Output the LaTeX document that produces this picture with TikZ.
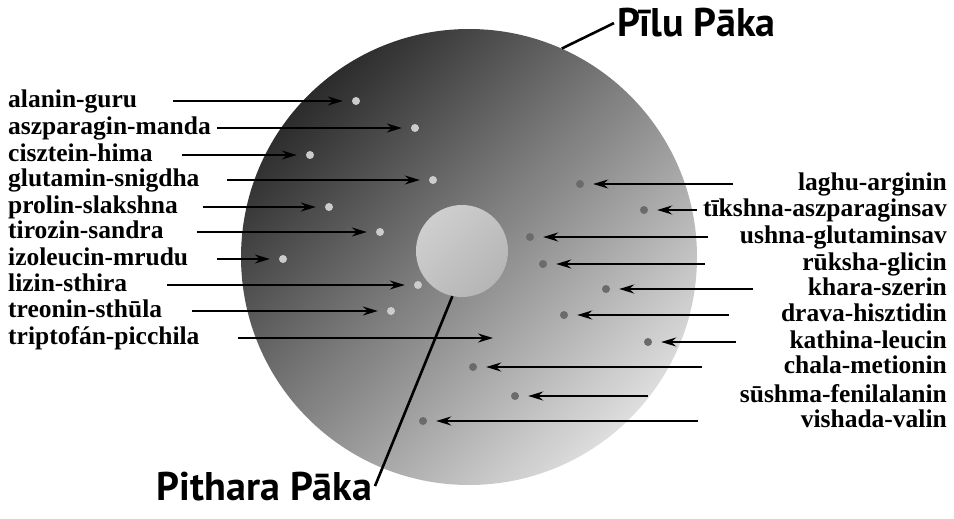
\documentclass[tikz,border=0pt]{standalone}
\usepackage{fontspec}
\setmainfont{Liberation Serif}
\newfontfamily\titlefont{PT Sans}
\usetikzlibrary{arrows.meta}
\definecolor{bgA}{gray}{0.10}
\definecolor{bgB}{gray}{0.94}
\pgfdeclarehorizontalshading{bigsh}{100bp}{color(0bp)=(bgA); color(20bp)=(bgA); color(80bp)=(bgB); color(100bp)=(bgB)}
\definecolor{inA}{gray}{0.86}
\definecolor{inB}{gray}{0.66}
\pgfdeclarehorizontalshading{innersh}{100bp}{color(0bp)=(inA); color(100bp)=(inB)}
\definecolor{ldotc}{gray}{0.80}
\definecolor{rdotc}{gray}{0.42}
\begin{document}
\begin{tikzpicture}[x=1pt,y=-1pt,
  lbl/.style={font=\bfseries\fontsize{25.5}{26}\selectfont, inner sep=0pt},
  ttl/.style={font=\titlefont\bfseries\fontsize{40}{40}\selectfont, inner sep=3pt},
  ldot/.style={circle, fill=ldotc, inner sep=0pt, minimum size=8pt},
  rdot/.style={circle, fill=rdotc, inner sep=0pt, minimum size=8pt},
  arr/.style={draw, line width=2pt, -{Stealth[length=15pt,width=9pt,inset=5pt]}, shorten >=9pt},
  lead/.style={draw, line width=2.6pt}]
\useasboundingbox (0,0) rectangle (954,519);
\node[circle, inner sep=0pt, minimum size=456pt, shade, shading=bigsh, shading angle=-45] (big) at (469,257) {};
\node[circle, inner sep=0pt, minimum size=92pt, shade, shading=innersh, shading angle=-45] (inner) at (462,251) {};
% left side
\foreach \n/\t/\sx/\dx/\y in {1/alanin-guru/173/356/101, 2/aszparagin-manda/217/415/128, 3/cisztein-hima/182/310/155, 4/glutamin-snigdha/227/433/180, 5/prolin-slakshna/203/329/207, 6/tirozin-sandra/197/380/232, 7/izoleucin-mrudu/217/283/259, 8/lizin-sthira/167/418/285, 9/treonin-sthūla/192/391/311}{
  \node[lbl, anchor=base west] (L\n) at (8,\y+6) {\t};
  \coordinate (ls\n) at (\sx,\y);
  \node[ldot] (ld\n) at (\dx,\y) {};
  \draw[arr] (ls\n) -- (ld\n);
}
\node[lbl, anchor=base west] (L10) at (8,344) {triptofán-picchila};
\coordinate (ls10) at (238,338);
\coordinate (le10) at (493,338);
\draw[arr, shorten >=0pt] (ls10) -- (le10);
% right side
\foreach \n/\t/\sx/\dx/\y in {1/laghu-arginin/733/580/184, 2/tīkshna-aszparaginsav/697/644/210, 3/ushna-glutaminsav/708/530/237, 4/rūksha-glicin/705/543/264, 5/khara-szerin/753/606/289, 6/drava-hisztidin/729/564/315, 7/kathina-leucin/736/648/342, 8/chala-metionin/702/473/367, 9/sūshma-fenilalanin/648/515/396, 10/vishada-valin/698/423/421}{
  \node[lbl, anchor=base east] (R\n) at (947,\y+6) {\t};
  \coordinate (rs\n) at (\sx,\y);
  \node[rdot] (rd\n) at (\dx,\y) {};
  \draw[arr] (rs\n) -- (rd\n);
}
% titles
\node[ttl, anchor=base west] (pilu) at (614,37) {Pīlu Pāka};
\draw[lead] (big.66) -- (pilu.west);
\node[ttl, anchor=base east] (pith) at (375,500) {Pithara Pāka};
\draw[lead] (inner.258) -- (pith.east);
\end{tikzpicture}
\end{document}
